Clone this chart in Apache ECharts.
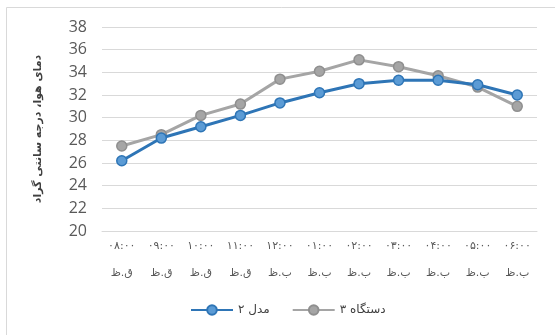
<!DOCTYPE html>
<html>
<head>
<meta charset="utf-8">
<script src="https://cdn.jsdelivr.net/npm/echarts@6/dist/echarts.min.js"></script>
<style>
  html, body { margin: 0; padding: 0; background: #fff; }
  #chart { width: 555px; height: 335px; }
</style>
</head>
<body>
<div id="chart"></div>
<script>
// Hour labels (time, then AM/PM marker in Persian)
const hours = ['۰۸:۰۰', '۰۹:۰۰', '۱۰:۰۰', '۱۱:۰۰', '۱۲:۰۰', '۰۱:۰۰', '۰۲:۰۰', '۰۳:۰۰', '۰۴:۰۰', '۰۵:۰۰', '۰۶:۰۰'];
const periods = ['ق.ظ', 'ق.ظ', 'ق.ظ', 'ق.ظ', 'ب.ظ', 'ب.ظ', 'ب.ظ', 'ب.ظ', 'ب.ظ', 'ب.ظ', 'ب.ظ'];
const categories = hours.map((h, i) => h + '\n' + periods[i]);

// Air temperature series (°C)
const model2 = [26.2, 28.2, 29.2, 30.2, 31.3, 32.2, 33.0, 33.3, 33.3, 32.9, 32.0];
const device3 = [27.5, 28.5, 30.2, 31.2, 33.4, 34.1, 35.1, 34.5, 33.7, 32.7, 31.0];

const seriesNames = ['مدل ۲', 'دستگاه ۳'];
const yTitle = 'دمای هوا، درجه سانتی گراد';

const chart = echarts.init(document.getElementById('chart'));
chart.setOption({
  animation: false,
  backgroundColor: '#fff',
  graphic: [{
    type: 'rect',
    shape: { x: 6.5, y: 7.5, width: 560, height: 340 },
    style: { fill: 'none', stroke: '#d9d9d9', lineWidth: 1 }
  }],
  grid: { left: 102, right: 18, top: 27, bottom: 104 },
  xAxis: {
    type: 'category',
    data: categories,
    boundaryGap: true,
    axisLine: { show: true, lineStyle: { color: '#d9d9d9' } },
    axisTick: { show: false },
    axisLabel: {
      color: '#595959',
      fontFamily: 'DejaVu Sans',
      fontSize: 11,
      lineHeight: 27,
      margin: 2,
      interval: 0
    }
  },
  yAxis: {
    type: 'value',
    min: 20,
    max: 38,
    interval: 2,
    name: yTitle,
    nameLocation: 'middle',
    nameRotate: 90,
    nameGap: 58,
    nameTextStyle: { color: '#404040', fontSize: 11, fontFamily: 'DejaVu Sans', fontWeight: 'bold' },
    axisLine: { show: false },
    axisTick: { show: false },
    axisLabel: { color: '#595959', fontSize: 16, fontFamily: 'Open Sans', margin: 15 },
    splitLine: { lineStyle: { color: '#d9d9d9', width: 1 } }
  },
  legend: {
    bottom: 14,
    left: 185,
    itemWidth: 42,
    itemHeight: 12,
    itemGap: 22,
    textStyle: { color: '#404040', fontSize: 12, fontFamily: 'DejaVu Sans' },
    data: seriesNames
  },
  series: [
    {
      name: seriesNames[0],
      type: 'line',
      data: model2,
      symbol: 'circle',
      symbolSize: 10,
      lineStyle: { color: '#2E75B6', width: 3 },
      itemStyle: { color: '#5B9BD5', borderColor: '#2E75B6', borderWidth: 1.5 },
      z: 3
    },
    {
      name: seriesNames[1],
      type: 'line',
      data: device3,
      symbol: 'circle',
      symbolSize: 10,
      lineStyle: { color: '#a5a5a5', width: 3 },
      itemStyle: { color: '#a5a5a5', borderColor: '#8f8f8f', borderWidth: 1.5 },
      z: 2
    }
  ]
});
</script>
</body>
</html>
